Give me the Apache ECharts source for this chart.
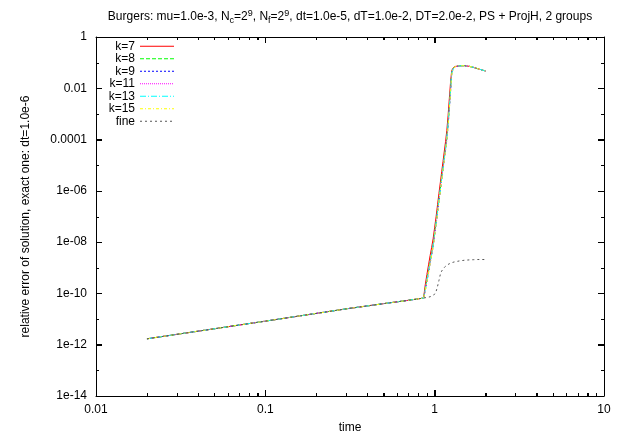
<!DOCTYPE html>
<html>
<head>
<meta charset="utf-8">
<script src="https://cdn.jsdelivr.net/npm/echarts@6/dist/echarts.min.js"></script>
<style>html,body{margin:0;padding:0;background:#fff}#main{width:623px;height:436px}</style>
</head>
<body>
<div id="main"></div>
<script>
// time samples shared by the k=... runs
var tK = [0.02,0.1,0.3,0.5,0.7,0.86,
	0.88,0.9,0.92,0.94,0.96,0.98,1.0,1.02,1.04,1.06,1.08,1.1,1.12,1.14,1.16,1.18,1.2,1.22,1.24,1.26,1.28,1.3,1.32,1.34,
	1.4,1.5,1.6,1.7,1.8,1.9,2.0];
var errK7 = [1.7e-12,8.3e-12,2.5e-11,4.0e-11,5.4e-11,6.6e-11,
	2.2e-10,5.5e-10,1.3e-9,3.0e-9,6.3e-9,1.4e-8,3.8e-8,1.0e-7,2.9e-7,8.0e-7,2.1e-6,5.5e-6,1.4e-5,3.5e-5,8.5e-5,2.3e-4,8.5e-4,3.8e-3,1.6e-2,4.8e-2,6.0e-2,6.7e-2,7.1e-2,7.3e-2,
	7.5e-2,7.6e-2,7.2e-2,6.5e-2,5.8e-2,5.2e-2,4.7e-2];
var errK8 = [1.7e-12,8.3e-12,2.5e-11,4.0e-11,5.4e-11,6.6e-11,
	1.5e-10,3.5e-10,7.8e-10,1.8e-9,3.8e-9,8.1e-9,2.3e-8,5.9e-8,1.7e-7,4.7e-7,1.2e-6,3.2e-6,8.1e-6,2.0e-5,4.8e-5,1.2e-4,4.2e-4,1.9e-3,8.5e-3,4.0e-2,5.6e-2,6.5e-2,7.0e-2,7.3e-2,
	7.5e-2,7.6e-2,7.2e-2,6.5e-2,5.8e-2,5.2e-2,4.7e-2];
var errK9 = [1.7e-12,8.3e-12,2.5e-11,4.0e-11,5.4e-11,6.6e-11,
	1.3e-10,2.9e-10,6.5e-10,1.5e-9,3.2e-9,6.8e-9,1.9e-8,4.9e-8,1.4e-7,3.9e-7,1.0e-6,2.7e-6,6.8e-6,1.7e-5,4.0e-5,1.0e-4,3.4e-4,1.5e-3,6.8e-3,3.4e-2,5.3e-2,6.3e-2,6.9e-2,7.3e-2,
	7.5e-2,7.6e-2,7.2e-2,6.5e-2,5.8e-2,5.2e-2,4.7e-2];
var errK11 = [1.7e-12,8.3e-12,2.5e-11,4.0e-11,5.4e-11,6.6e-11,
	1.35e-10,3.1e-10,7.0e-10,1.6e-9,3.4e-9,7.2e-9,2.0e-8,5.2e-8,1.5e-7,4.2e-7,1.1e-6,2.9e-6,7.3e-6,1.8e-5,4.3e-5,1.1e-4,3.7e-4,1.6e-3,7.4e-3,3.6e-2,5.4e-2,6.4e-2,6.9e-2,7.3e-2,
	7.5e-2,7.6e-2,7.2e-2,6.5e-2,5.8e-2,5.2e-2,4.7e-2];
var errK13 = [1.7e-12,8.3e-12,2.5e-11,4.0e-11,5.4e-11,6.6e-11,
	1.4e-10,3.3e-10,7.4e-10,1.7e-9,3.6e-9,7.7e-9,2.2e-8,5.6e-8,1.6e-7,4.4e-7,1.15e-6,3.0e-6,7.7e-6,1.9e-5,4.5e-5,1.15e-4,3.9e-4,1.75e-3,7.9e-3,3.8e-2,5.5e-2,6.4e-2,7.0e-2,7.3e-2,
	7.5e-2,7.6e-2,7.2e-2,6.5e-2,5.8e-2,5.2e-2,4.7e-2];
var errK15 = [1.7e-12,8.3e-12,2.5e-11,4.0e-11,5.4e-11,6.6e-11,
	1.25e-10,2.8e-10,6.2e-10,1.45e-9,3.1e-9,6.6e-9,1.8e-8,4.7e-8,1.35e-7,3.7e-7,9.6e-7,2.6e-6,6.5e-6,1.6e-5,3.9e-5,9.6e-5,3.2e-4,1.4e-3,6.5e-3,3.3e-2,5.2e-2,6.3e-2,6.9e-2,7.3e-2,
	7.5e-2,7.6e-2,7.2e-2,6.5e-2,5.8e-2,5.2e-2,4.7e-2];
// fine run
var tFine = [0.02,0.1,0.3,0.5,0.7,0.86,0.94,1.0,1.02,1.04,1.06,1.08,1.1,1.12,1.15,1.2,1.25,1.3,1.4,1.5,1.6,1.7,1.8,1.9,2.0];
var errFine = [1.7e-12,8.3e-12,2.5e-11,4.0e-11,5.4e-11,6.6e-11,7.4e-11,9.3e-11,1.2e-10,1.9e-10,3.2e-10,5.5e-10,7.5e-10,8.8e-10,1.1e-9,1.35e-9,1.55e-9,1.68e-9,1.85e-9,1.97e-9,2.03e-9,2.07e-9,2.1e-9,2.1e-9,2.1e-9];

var seriesNames = ['k=7','k=8','k=9','k=11','k=13','k=15','fine'];
var xRange = [0.01, 10];
var yRange = [1e-14, 1];
var xTickLabels = {'-2':'0.01','-1':'0.1','0':'1','1':'10'};
var yTickLabels = {'0':'1','-2':'0.01','-4':'0.0001','-6':'1e-06','-8':'1e-08','-10':'1e-10','-12':'1e-12','-14':'1e-14'};
// tick marks (gnuplot style: inward, mirrored on top/right)
var xMajorTicks = [0.01, 0.1, 1, 10];
var xMinorTicks = [0.02,0.03,0.04,0.05,0.06,0.07,0.08,0.09, 0.2,0.3,0.4,0.5,0.6,0.7,0.8,0.9, 2,3,4,5,6,7,8,9];
var yMajorTicks = [1e-14,1e-12,1e-10,1e-8,1e-6,1e-4,1e-2,1];
var yMinorTicks = [1e-13,1e-11,1e-9,1e-7,1e-5,1e-3,1e-1];

var FONT = 'Liberation Sans, Arial, Helvetica, sans-serif';

function pairs(t, v) {
	var out = [];
	for (var i = 0; i < t.length; i++) {
		out.push([t[i], v[i]]);
	}
	return out;
}

function makeLine(name, t, v, color, dash) {
	return {
		name: name,
		type: 'line',
		data: pairs(t, v),
		symbol: 'none',
		showSymbol: false,
		smooth: false,
		lineStyle: { color: color, width: 1, type: dash },
		itemStyle: { color: color }
	};
}

// [x, y, tick length, 0 = x tick / 1 = y tick]
function tickData() {
	var out = [];
	xMajorTicks.forEach(function(v) { out.push([v, yRange[0], 6, 0]); });
	xMinorTicks.forEach(function(v) { out.push([v, yRange[0], 3, 0]); });
	yMajorTicks.forEach(function(v) { out.push([xRange[0], v, 6, 1]); });
	yMinorTicks.forEach(function(v) { out.push([xRange[0], v, 3, 1]); });
	return out;
}

function renderTick(params, api) {
	var len = api.value(2);
	var st = { stroke: '#000', lineWidth: 1 };
	var a, b;
	if (api.value(3) == 0) {
		a = api.coord([api.value(0), yRange[0]]);
		b = api.coord([api.value(0), yRange[1]]);
		var x = Math.round(a[0]) + 0.5;
		return { type: 'group', children: [
			{ type: 'line', shape: { x1: x, y1: a[1], x2: x, y2: a[1] - len }, style: st },
			{ type: 'line', shape: { x1: x, y1: b[1], x2: x, y2: b[1] + len }, style: st }
		] };
	}
	a = api.coord([xRange[0], api.value(1)]);
	b = api.coord([xRange[1], api.value(1)]);
	var y = Math.round(a[1]) + 0.5;
	return { type: 'group', children: [
		{ type: 'line', shape: { x1: a[0], y1: y, x2: a[0] + len, y2: y }, style: st },
		{ type: 'line', shape: { x1: b[0], y1: y, x2: b[0] - len, y2: y }, style: st }
	] };
}

function xAxisDef(pos, labels) {
	return {
		type: 'log',
		logBase: 10,
		min: xRange[0],
		max: xRange[1],
		position: pos,
		axisLine: { show: true, onZero: false, lineStyle: { color: '#000', width: 1 } },
		axisTick: { show: true, inside: true, length: 6, lineStyle: { color: '#000', width: 1 } },
		minorTick: { show: true, splitNumber: 9, length: 3, lineStyle: { color: '#000', width: 1 } },
		splitLine: { show: false },
		axisLabel: {
			show: labels,
			margin: 8,
			color: '#000',
			fontSize: 12,
			fontFamily: FONT,
			formatter: function(v) { return xTickLabels[Math.round(Math.log10(v))] || ''; }
		},
		name: labels ? 'time' : '',
		nameLocation: 'middle',
		nameGap: 26,
		nameTextStyle: { color: '#000', fontSize: 12, fontFamily: FONT }
	};
}

function yAxisDef(pos, labels) {
	return {
		type: 'log',
		logBase: 100,
		min: yRange[0],
		max: yRange[1],
		position: pos,
		axisLine: { show: true, onZero: false, lineStyle: { color: '#000', width: 1 } },
		axisTick: { show: true, inside: true, length: 6, lineStyle: { color: '#000', width: 1 } },
		splitLine: { show: false },
		axisLabel: {
			show: labels,
			margin: 9,
			color: '#000',
			fontSize: 12,
			fontFamily: FONT,
			formatter: function(v) { return yTickLabels[Math.round(Math.log10(v))] || ''; }
		},
		name: labels ? 'relative error of solution, exact one: dt=1.0e-6' : '',
		nameLocation: 'middle',
		nameGap: 64,
		nameTextStyle: { color: '#000', fontSize: 12, fontFamily: FONT }
	};
}

var option = {
	animation: false,
	backgroundColor: '#fff',
	textStyle: { fontFamily: FONT, color: '#000' },
	title: {
		text: 'Burgers: mu=1.0e-3, N{sub|c}=2{sup|9}, N{sub|f}=2{sup|9}, dt=1.0e-5, dT=1.0e-2, DT=2.0e-2, PS + ProjH, 2 groups',
		left: 350,
		top: 9,
		padding: 0,
		textAlign: 'center',
		textStyle: {
			fontSize: 12,
			fontWeight: 'normal',
			color: '#000',
			fontFamily: FONT,
			lineHeight: 16,
			rich: {
				sub: { fontSize: 9, lineHeight: 9, verticalAlign: 'bottom', fontFamily: FONT, color: '#000' },
				sup: { fontSize: 9, lineHeight: 9, verticalAlign: 'top', fontFamily: FONT, color: '#000' }
			}
		}
	},
	legend: {
		orient: 'vertical',
		left: 103,
		top: 40,
		padding: 0,
		align: 'right',
		itemWidth: 34,
		itemHeight: 10,
		itemGap: 0,
		selectedMode: false,
		data: seriesNames,
		itemStyle: { opacity: 0 },
		lineStyle: { width: 1 },
		formatter: function(name) { return '{n|' + name + '}'; },
		textStyle: {
			fontSize: 12,
			lineHeight: 12.5,
			color: '#000',
			fontFamily: FONT,
			rich: { n: { width: 32, align: 'right', fontSize: 12, lineHeight: 12.5, fontFamily: FONT } }
		}
	},
	grid: {
		left: 96,
		right: 19,
		top: 37,
		bottom: 40,
		show: false,
		containLabel: false,
		outerBoundsMode: 'none'
	},
	xAxis: [xAxisDef('bottom', true), xAxisDef('top', false)],
	yAxis: [yAxisDef('left', true), yAxisDef('right', false)],
	series: [
		makeLine('k=7', tK, errK7, '#ff0000', 'solid'),
		makeLine('k=8', tK, errK8, '#00ff00', [4, 2]),
		makeLine('k=9', tK, errK9, '#0000ff', [2, 2]),
		makeLine('k=11', tK, errK11, '#ff00ff', [1, 1]),
		makeLine('k=13', tK, errK13, '#00ffff', [6, 2, 1, 2]),
		makeLine('k=15', tK, errK15, '#ffff00', [3, 2, 1, 2]),
		makeLine('fine', tFine, errFine, '#555555', [2, 3]),
		{
			type: 'custom',
			name: 'ticks',
			data: tickData(),
			renderItem: renderTick,
			clip: false,
			silent: true,
			z: 10
		}
	]
};

var myChart = echarts.init(document.getElementById('main'));
myChart.setOption(option, true);
</script>
</body>
</html>
